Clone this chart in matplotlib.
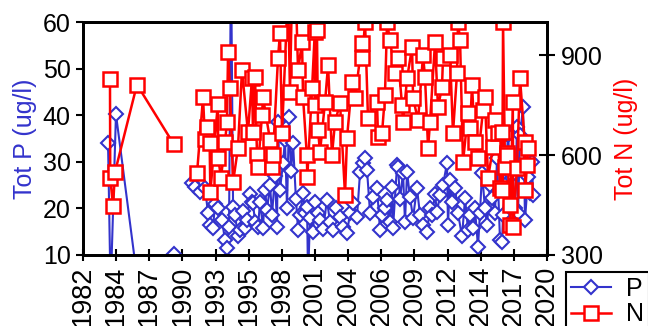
import numpy as np
import matplotlib.pyplot as plt

# Tot P (ug/l), left axis; decimal years on the chart's date axis
# (nan = gap in the record, the line is not joined there)
p_years = [
    1984.34, 1984.55, 1984.99, 1986.71, 1989.74, 1990.50, 1991.22, 1991.46, 1991.87,
    1992.28, 1992.53, 1992.69, 1992.94, 1993.10, 1993.35, 1993.67, 1993.92,
    1994.08, 1994.25, 1994.41, 1994.58, 1994.74, 1994.98, 1995.15, 1995.39,
    1995.56, 1995.72, 1995.97, 1996.13, 1996.21, 1996.38, 1996.62, 1996.79,
    1997.03, 1997.20, 1997.36, 1997.61, 1997.77, 1998.01, 1998.18, 1998.26,
    1998.42, 1998.67, 1998.83, 1999.00, 1999.16, 1999.33, 1999.49, 1999.73,
    1999.90, 2000.06, 2000.31, 2000.47, 2000.64, 2000.72, 2000.88, 2001.13,
    2001.29, 2001.54, 2001.70, 2001.95, 2002.27, 2002.52, 2002.77, 2003.01,
    2003.34, 2003.58, 2003.91, 2004.16, 2004.40, 2004.73, 2004.98, 2005.22,
    2005.39, 2005.55, 2005.80, 2006.04, 2006.37, 2006.61, 2006.78, 2007.02,
    2007.19, 2007.43, 2007.60, 2007.68, 2008.01, 2008.09, 2008.25, 2008.50,
    2008.66, 2008.83, 2009.07, 2009.32, 2009.64, 2009.89, 2010.14, 2010.46,
    2010.71, 2010.87, 2011.12, 2011.28, 2011.53, 2011.77, 2012.10, 2012.18,
    2012.35, 2012.51, 2012.76, 2013.00, 2013.33, 2013.58, 2013.82, 2013.99,
    2014.23, 2014.39, 2014.64, 2014.80, 2014.97, 2015.21, 2015.38, 2015.62,
    2015.79, 2016.03, 2016.20, 2016.44, 2016.61, 2016.69, 2016.85, 2017.10,
    2017.26, 2017.43, 2017.67, 2017.83, 2017.92, 2018.08, 2018.33, 2018.49,
    2018.74, 2018.90, 2019.06, 2019.15,
]
p_vals = [
    34.1, 2.0, 40.2, 5.3, 10.2, np.nan, 25.4, 24.6, 23.5,
    24.4, 19.0, 16.4, 15.8, 21.0, 20.0, 17.5, 13.2,
    11.5, 16.0, 75.0, 20.3, 18.6, 14.0, 15.4, 19.5,
    15.8, 17.5, 23.0, 21.4, 21.2, 17.0, 16.0, 21.4,
    15.8, 24.0, 19.7, 25.0, 18.6, 27.0, 16.0, 38.5,
    24.0, 29.7, 34.7, 20.0, 39.6, 28.0, 34.0, 22.0,
    15.4, 18.6, 23.3, 19.0, 20.3, 5.0, 18.0, 15.0,
    21.4, 19.0, 17.5, 15.5, 21.8, 17.0, 15.4, 20.0,
    18.2, 16.0, 14.7, 19.0, 21.2, 18.2, 27.8, 29.7,
    30.8, 28.2, 19.0, 22.4, 24.4, 15.4, 18.6, 20.1,
    21.8, 17.0, 24.6, 15.8, 29.3, 28.9, 22.0, 27.6,
    17.1, 27.8, 22.4, 18.0, 24.4, 18.6, 16.5, 14.9,
    20.0, 18.6, 23.0, 19.2, 22.9, 25.0, 29.7, 16.4,
    26.0, 21.4, 24.4, 19.0, 14.0, 22.2, 15.4, 18.6,
    15.8, 20.0, 11.7, 19.0, 27.6, 20.0, 16.4, 25.0,
    22.2, 19.0, 30.8, 13.2, 12.8, 18.6, 25.0, 35.8,
    28.7, 27.2, 20.0, 37.5, 19.0, 35.8, 41.8, 17.5,
    26.7, 23.3, 30.0, 22.9,
]

# Tot N (ug/l), right axis
n_years = [
    1984.50, 1984.52, 1984.75, 1984.91, 1986.71, 1989.74, 1990.50, 1991.63, 1992.12,
    1992.28, 1992.45, 1992.66, 1992.72, 1993.33, 1993.37, 1993.59, 1993.92,
    1994.08, 1994.17, 1994.33, 1994.58, 1994.98, 1995.31, 1995.80, 1996.13,
    1996.21, 1996.38, 1996.54, 1996.62, 1996.95, 1997.03, 1997.61, 1997.77,
    1997.85, 1998.26, 1998.42, 1998.59, 1999.08, 1999.24, 1999.41, 1999.73,
    1999.90, 2000.23, 2000.31, 2000.62, 2000.66, 2001.05, 2001.27, 2001.31,
    2001.45, 2001.54, 2001.70, 2002.11, 2002.36, 2002.68, 2002.93, 2003.34,
    2003.75, 2003.91, 2004.32, 2004.57, 2005.12, 2005.16, 2005.39, 2005.63,
    2006.37, 2006.45, 2006.78, 2007.02, 2007.19, 2007.43, 2007.84, 2008.09,
    2008.42, 2008.50, 2008.83, 2009.24, 2009.32, 2009.73, 2010.14, 2010.30,
    2010.55, 2010.71, 2011.12, 2011.36, 2011.69, 2011.77, 2012.35, 2012.59,
    2012.92, 2013.00, 2013.17, 2013.41, 2013.82, 2013.99, 2014.15, 2014.39,
    2014.64, 2015.05, 2015.21, 2015.46, 2015.87, 2016.03, 2016.28, 2016.44,
    2016.58, 2016.63, 2016.69, 2016.85, 2017.00, 2017.05, 2017.24, 2017.28,
    2017.49, 2017.53, 2017.83, 2018.08, 2018.47, 2018.51, 2018.65, 2018.74,
]
n_vals = [
    828, 531, 447, 549, 812, 632, np.nan, 546, 774,
    648, 684, 636, 489, 753, 591, 531, 639,
    699, 909, 801, 519, 621, 855, 669, 831,
    669, 834, 600, 564, 720, 774, 645, 564,
    600, 891, 966, 666, 1100, 789, 1100, 1080,
    855, 939, 774, 600, 534, 801, 969, 750,
    975, 675, 609, 759, 870, 600, 699, 756,
    480, 651, 819, 771, 936, 891, 999, 711,
    759, 654, 666, 780, 999, 945, 846, 891,
    750, 699, 831, 924, 771, 705, 900, 834,
    621, 699, 939, 744, 804, 891, 900, 666,
    846, 1000, 945, 579, 726, 681, 810, 639,
    591, 735, 774, 531, 624, 705, 666, 501,
    669, 495, 1000, 564, 606, 600, 450, 390,
    759, 384, 561, 831, 639, 495, 570, 621,
]

x_start = 1982.29
tick_labels = ["1982", "1984", "1987", "1990", "1993", "1995", "1998", "2001",
               "2004", "2006", "2009", "2012", "2014", "2017", "2020"]

BLUE = "#3333CC"
RED = "#FF0000"
FS = 18

plt.rcParams["font.family"] = ["Liberation Sans", "DejaVu Sans"]

fig = plt.figure(figsize=(6.48, 3.26), dpi=100)
ax = fig.add_axes([83 / 648, 1 - 255 / 326, 464 / 648, 233 / 326])
ax2 = ax.twinx()

line_p, = ax.plot(p_years, p_vals, color=BLUE, lw=1.5, marker="D", ms=7,
                  mfc="white", mec=BLUE, mew=1.5, label="P")
line_n, = ax2.plot(n_years, n_vals, color=RED, lw=1.8, marker="s", ms=10,
                   mfc="white", mec=RED, mew=1.8, label="N")

ax.set_xlim(x_start, x_start + 38)
ax.set_ylim(10, 60)
ax2.set_ylim(300, 1000)

ax.set_xticks(np.linspace(x_start, x_start + 38, len(tick_labels)))
ax.set_xticklabels(tick_labels, rotation=90, fontsize=19.5)
ax.set_yticks([10, 20, 30, 40, 50, 60])
ax.tick_params(axis="y", labelsize=FS, direction="out", length=5, width=1.5, pad=4)
ax.tick_params(axis="x", direction="inout", length=9, width=1.5, pad=3)
ax2.set_yticks([300, 600, 900])
ax2.tick_params(axis="y", labelsize=FS, direction="inout", length=12, width=1.5, pad=4)

ax.set_ylabel("Tot P (ug/l)", color=BLUE, fontsize=FS, labelpad=4)
ax2.set_ylabel("Tot N (ug/l)", color=RED, fontsize=FS, rotation=90, labelpad=8)

for a in (ax, ax2):
    for s in a.spines.values():
        s.set_linewidth(2)

leg = ax2.legend([line_p, line_n], ["P", "N"], loc="upper left",
                 bbox_to_anchor=(566 / 648, 1 - 272 / 326),
                 bbox_transform=fig.transFigure, borderaxespad=0,
                 fancybox=False, framealpha=1, edgecolor="black",
                 fontsize=FS, handlelength=1.6, handletextpad=0.6,
                 borderpad=0.2, labelspacing=0.05)
leg.get_frame().set_linewidth(1.5)

fig.savefig("out.png", dpi=100)
